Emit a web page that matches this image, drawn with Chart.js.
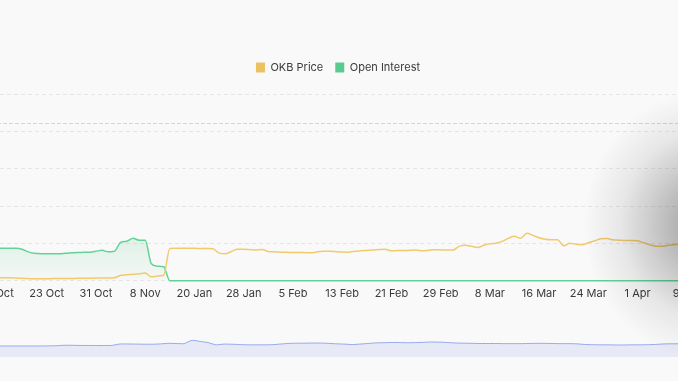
<!DOCTYPE html>
<html><head><meta charset="utf-8">
<script src="https://cdn.jsdelivr.net/npm/chart.js@4.4.1/dist/chart.umd.min.js"></script>
<style>
html,body{margin:0;padding:0;background:#f9f9f9;overflow:hidden;width:678px;height:381px;}
#main{position:absolute;left:-27px;top:0;width:726px;height:306px;}
#nav{position:absolute;left:0;top:327px;width:680px;height:30px;}
#shade{position:absolute;left:0;top:0;width:678px;height:381px;pointer-events:none;
background:radial-gradient(ellipse 125px 135px at 708px 225px, rgba(0,0,0,0.38) 0%, rgba(0,0,0,0.23) 35%, rgba(0,0,0,0.07) 70%, rgba(0,0,0,0) 100%);}
</style></head>
<body>
<div id="main"><canvas id="c1"></canvas></div>
<div id="nav"><canvas id="c2"></canvas></div>
<div id="shade"></div>
<script>
// ---- categories (daily) ----
const categories = [
 '12 Oct','13 Oct','14 Oct','15 Oct','16 Oct','17 Oct','18 Oct','19 Oct','20 Oct','21 Oct','22 Oct','23 Oct','24 Oct','25 Oct','26 Oct','27 Oct','28 Oct','29 Oct','30 Oct','31 Oct',
 '1 Nov','2 Nov','3 Nov','4 Nov','5 Nov','6 Nov','7 Nov','8 Nov','9 Nov','10 Nov','11 Nov',
 '16 Jan','17 Jan','18 Jan','19 Jan','20 Jan','21 Jan','22 Jan','23 Jan','24 Jan','25 Jan','26 Jan','27 Jan','28 Jan','29 Jan','30 Jan','31 Jan',
 '1 Feb','2 Feb','3 Feb','4 Feb','5 Feb','6 Feb','7 Feb','8 Feb','9 Feb','10 Feb','11 Feb','12 Feb','13 Feb','14 Feb','15 Feb','16 Feb','17 Feb','18 Feb','19 Feb','20 Feb','21 Feb','22 Feb','23 Feb','24 Feb','25 Feb','26 Feb','27 Feb','28 Feb','29 Feb',
 '1 Mar','2 Mar','3 Mar','4 Mar','5 Mar','6 Mar','7 Mar','8 Mar','9 Mar','10 Mar','11 Mar','12 Mar','13 Mar','14 Mar','15 Mar','16 Mar','17 Mar','18 Mar','19 Mar','20 Mar','21 Mar','22 Mar','23 Mar','24 Mar','25 Mar','26 Mar','27 Mar','28 Mar','29 Mar','30 Mar','31 Mar',
 '1 Apr','2 Apr','3 Apr','4 Apr','5 Apr','6 Apr','7 Apr','8 Apr','9 Apr','10 Apr'
];
const tickLabels = ['15 Oct','23 Oct','31 Oct','8 Nov','20 Jan','28 Jan','5 Feb','13 Feb','21 Feb','29 Feb','8 Mar','16 Mar','24 Mar','1 Apr','9 Apr'];

// ---- OKB price (USD) ----
const okbPrice = [
 41.59,41.59,41.59,41.59,41.44,41.44,41.35,41.20,41.11,40.96,40.96,40.96,41.06,41.06,41.11,41.11,41.20,41.20,41.25,41.30,
 41.30,41.35,41.44,42.65,42.89,43.13,43.37,43.71,41.93,42.31,42.65,
 55.55,55.74,55.74,55.64,55.64,55.59,55.55,55.40,53.33,52.99,54.10,55.16,55.16,55.02,54.78,55.07,
 54.10,53.96,53.81,53.72,53.62,53.62,53.57,53.48,53.96,54.20,54.20,54.05,53.86,53.81,54.20,54.44,54.63,54.82,55.07,55.26,54.44,54.54,54.58,54.68,54.78,54.44,54.68,55.02,54.92,
 54.78,54.78,56.61,57.09,56.61,56.03,57.09,57.81,58.14,59.01,60.46,61.42,60.46,62.86,61.90,60.70,59.97,59.73,59.73,56.85,58.05,57.57,57.33,58.29,59.25,60.21,60.36,59.73,59.59,59.40,59.40,
 59.25,58.29,57.33,56.70,56.61,57.18,57.42,57.57,57.57,57.57
];

// ---- Open interest (USD millions) ----
const openInterest = [
 8.69,8.69,8.69,8.69,8.69,8.69,8.69,8.42,7.75,7.35,7.27,7.22,7.22,7.22,7.35,7.49,7.57,7.62,7.67,7.89,
 8.16,7.75,7.89,10.29,10.61,11.36,10.88,10.88,4.55,3.88,3.74,
 0,0,0,0,0,0,0,0,0,0,0,0,0,0,0,0,
 0,0,0,0,0,0,0,0,0,0,0,0,0,0,0,0,0,0,0,0,0,0,0,0,0,0,0,0,0,
 0,0,0,0,0,0,0,0,0,0,0,0,0,0,0,0,0,0,0,0,0,0,0,0,0,0,0,0,0,0,0,
 0,0,0,0,0,0,0,0,0,0
];

// ---- reference level drawn as dashed line (price axis) ----
const priceRefLevel = 116;

// ---- navigator overview series ----
const navValues = [
 36.7,36.7,36.7,36.7,36.7,36.7,37,37.5,39,39,38.5,38.5,38.3,38.3,38.7,43.3,43.3,43,42.7,42.5,
 43.5,45.5,45,44.5,55.5,52,48,40.5,43,42.5,41.5,40.5,40.5,40.5,41,43,45,46,46,46.5,
 46.5,45.5,44,43,41.5,43,45,47,47.5,48.5,48,47.5,48,49,50,49.5,48,46.5,46,45.5,
 45,45,45,44.5,44.5,44.5,45,45.5,45.5,45,44.5,44.5,44,42,41,40.5,40.5,40,40,40.5,
 40.5,41,42,43.5,44,44
];
const navLabels = navValues.map((_, i) => String(i));

const seriesNames = ['OKB Price','Open Interest'];
const seriesColors = ['#ebc262','#5acb8c'];
const lineColors = ['#f2ca6e','#62d396'];

const legendSpacer = {
  id: 'legendSpacer',
  beforeInit(chart) {
    const orig = chart.legend.fit;
    chart.legend.fit = function () { orig.bind(chart.legend)(); this.height += 11; };
  },
  afterLayout(chart) { chart.legend.left += 2; chart.legend.right += 2; }
};
const refLine = {
  id: 'refLine',
  beforeDatasetsDraw(chart) {
    const s = chart.scales.yPrice, ca = chart.chartArea, c = chart.ctx;
    const y = Math.round(s.getPixelForValue(priceRefLevel)) + 0.5;
    c.save();
    c.strokeStyle = '#d6d6d6'; c.lineWidth = 1; c.setLineDash([4, 2]);
    c.beginPath(); c.moveTo(ca.left, y); c.lineTo(ca.right, y); c.stroke();
    c.restore();
  }
};

const font = {family: 'Inter, "Noto Sans", sans-serif', size: 11};

new Chart(document.getElementById('c1'), {
  type: 'line',
  data: {
    labels: categories,
    datasets: [
      {label: seriesNames[0], data: okbPrice, yAxisID: 'yPrice', borderColor: lineColors[0], backgroundColor: seriesColors[0],
       borderWidth: 1.5, pointRadius: 0, fill: false, cubicInterpolationMode: 'monotone'},
      {label: seriesNames[1], data: openInterest, yAxisID: 'yOI', borderColor: lineColors[1], borderWidth: 1.5, pointRadius: 0,
       cubicInterpolationMode: 'monotone', fill: 'origin', clip: false,
       backgroundColor: (ctx) => {
         const ch = ctx.chart, ca = ch.chartArea;
         if (!ca) return 'rgba(90,203,140,0.1)';
         const g = ch.ctx.createLinearGradient(0, ch.scales.yOI.getPixelForValue(12), 0, ca.bottom);
         g.addColorStop(0, 'rgba(90,203,140,0.17)');
         g.addColorStop(1, 'rgba(90,203,140,0.02)');
         return g;
       }}
    ]
  },
  options: {
    responsive: true, maintainAspectRatio: false, animation: false, devicePixelRatio: 1,
    events: [],
    layout: {padding: {top: 50, left: 0, right: 0, bottom: 0}},
    plugins: {
      tooltip: {enabled: false},
      legend: {
        display: true, position: 'top', align: 'center',
        labels: {
          boxWidth: 9, boxHeight: 10, padding: 12, color: '#3a3a3a', font: font,
          generateLabels(chart) {
            const items = Chart.defaults.plugins.legend.labels.generateLabels(chart);
            items.forEach((it, i) => { it.fillStyle = seriesColors[i]; it.strokeStyle = seriesColors[i]; it.lineWidth = 0; });
            return items;
          }
        }
      }
    },
    scales: {
      x: {
        type: 'category', offset: false,
        grid: {display: false, drawTicks: false}, border: {display: false},
        ticks: {
          autoSkip: false, maxRotation: 0, minRotation: 0, padding: 6, color: '#3a3a3a', font: font,
          callback(val) { const l = this.getLabelForValue(val); return tickLabels.includes(l) ? l : ''; }
        }
      },
      yOI: {
        position: 'left', min: 0, max: 50, display: true,
        ticks: {display: false, stepSize: 10},
        border: {display: false, dash: [4, 3]},
        grid: {drawTicks: false, color: '#e6e6e6', lineWidth: 1},
        afterFit(scale) { scale.width = 0; }
      },
      yPrice: {position: 'right', min: 40, max: 130, display: false}
    }
  },
  plugins: [legendSpacer, refLine]
});

new Chart(document.getElementById('c2'), {
  type: 'line',
  data: {labels: navLabels, datasets: [{data: navValues, borderColor: '#93a9ec', borderWidth: 1,
    backgroundColor: 'rgba(104,134,230,0.12)', fill: 'start', pointRadius: 0, tension: 0.2}]},
  options: {
    responsive: true, maintainAspectRatio: false, animation: false, devicePixelRatio: 1, events: [],
    layout: {padding: 0},
    plugins: {legend: {display: false}, tooltip: {enabled: false}},
    scales: {x: {display: false}, y: {display: false, min: 0, max: 100}}
  }
});
</script>
</body></html>
